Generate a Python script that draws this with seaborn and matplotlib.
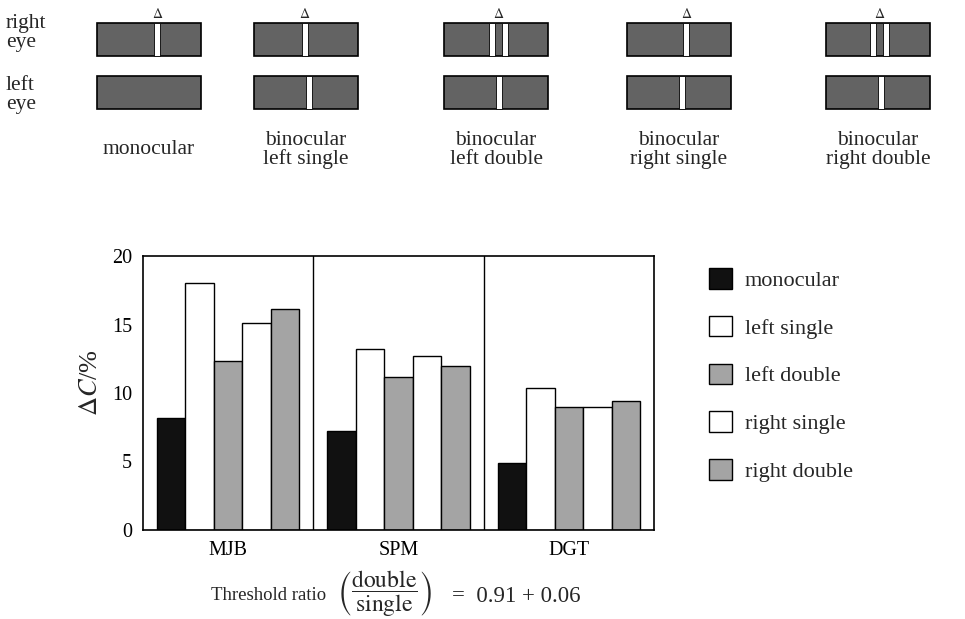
import pandas as pd
import matplotlib.pyplot as plt
import seaborn as sns
from matplotlib.patches import Patch, Rectangle

# Data
subjects = ["MJB", "SPM", "DGT"]
conditions = ["monocular", "left single", "left double", "right single", "right double"]
mjb = [8.2, 18.0, 12.3, 15.1, 16.1]
spm = [7.2, 13.2, 11.2, 12.7, 11.95]
dgt = [4.9, 10.4, 8.95, 8.95, 9.45]
colors = ["#111111", "white", "#a4a4a4", "white", "#a4a4a4"]

rows = []
for subj, vals in zip(subjects, [mjb, spm, dgt]):
    for cond, v in zip(conditions, vals):
        rows.append({"subject": subj, "condition": cond, "dC": v})
df = pd.DataFrame(rows)

sns.set_style("white")
plt.rcParams["font.family"] = ["Liberation Serif", "DejaVu Serif"]
plt.rcParams["mathtext.fontset"] = "stix"
plt.rcParams["font.size"] = 14

fig = plt.figure(figsize=(9.65, 6.19), dpi=100)

# --------- bar chart ---------
ax = fig.add_axes([143 / 965, 89 / 619, 511 / 965, 274 / 619])
sns.barplot(data=df, x="subject", y="dC", hue="condition", order=subjects,
            hue_order=conditions, palette=dict(zip(conditions, colors)),
            saturation=1, edgecolor="black", linewidth=1.0, width=0.835,
            legend=False, ax=ax)
ax.set_xlim(-0.5, 2.5)
ax.set_ylim(0, 20)
ax.set_yticks([0, 5, 10, 15, 20])
for xsep in [0.5, 1.5]:
    ax.axvline(xsep, color="black", lw=1.0)
for s in ax.spines.values():
    s.set_color("black")
    s.set_linewidth(1.2)
ax.tick_params(axis="both", length=0, labelsize=14.5, colors="black")
ax.tick_params(axis="y", pad=8)
ax.tick_params(axis="x", pad=8)
ax.set_xlabel("")
ax.set_ylabel(r"$\Delta C$/%", fontsize=19)
ax.yaxis.set_label_coords(-0.08, 0.54)

handles = [Patch(facecolor=c, edgecolor="black", linewidth=1.0) for c in colors]
fig.legend(handles=handles, labels=conditions, loc="upper left",
           bbox_to_anchor=(709 / 965, 1 - 268 / 619), frameon=False,
           fontsize=16, handlelength=1.05, handleheight=1.05,
           handletextpad=0.55, labelspacing=1.12, borderpad=0, borderaxespad=0)

# threshold ratio line under the chart
fig.text(211 / 965, 1 - 596 / 619, "Threshold ratio", ha="left", va="center",
         fontsize=13.5)
fig.text(385 / 965, 1 - 594 / 619,
         r"$\left(\dfrac{\mathrm{double}}{\mathrm{single}}\right)$",
         ha="center", va="center", fontsize=17)
fig.text(452 / 965, 1 - 596 / 619, r"=  0.91 + 0.06", ha="left", va="center",
         fontsize=16.5)

# --------- stimulus schematic ---------
sx = fig.add_axes([0, 0, 1, 1], zorder=-1)
sx.set_xlim(0, 965)
sx.set_ylim(619, 0)
sx.axis("off")

panel_x = [97, 254, 444, 627, 826]
panel_labels = ["monocular", "binocular\nleft single", "binocular\nleft double",
                "binocular\nright single", "binocular\nright double"]
right_slits = [[0.58], [0.49], [0.46, 0.59], [0.57], [0.45, 0.58]]
left_slits = [[], [0.53], [0.53], [0.53], [0.53]]
pw, slit_w = 104, 6
rows_y = [(23, 33), (76, 33)]

for x0, lab, rs, ls in zip(panel_x, panel_labels, right_slits, left_slits):
    for (y0, h), slits in zip(rows_y, [rs, ls]):
        sx.add_patch(Rectangle((x0, y0), pw, h, facecolor="#636363",
                               edgecolor="black", lw=1.2))
        for f in slits:
            sx.add_patch(Rectangle((x0 + f * pw - slit_w / 2, y0), slit_w, h,
                                   facecolor="white", edgecolor="black", lw=0.6))
    mid = x0 + pw * (sum(rs) / len(rs))
    sx.text(mid, 14, r"$\Delta$", ha="center", va="center", fontsize=10)
    sx.text(x0 + pw / 2, 150, lab, ha="center", va="center", fontsize=15.5,
            linespacing=1.0)

sx.text(6, 33, "right\neye", ha="left", va="center", fontsize=15.5, linespacing=0.95)
sx.text(6, 95, "left\neye", ha="left", va="center", fontsize=15.5, linespacing=0.95)

plt.savefig("out.png", dpi=100)
plt.close()
